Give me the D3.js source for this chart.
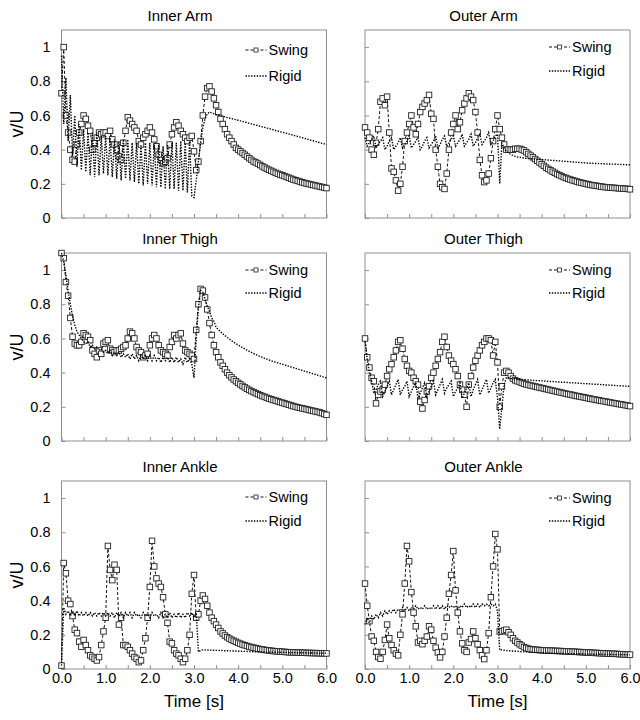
<!DOCTYPE html>
<html>
<head>
<meta charset="utf-8">
<script src="https://cdn.jsdelivr.net/npm/d3@7"></script>
<style>
  body { margin: 0; background: #fff; }
  svg text { font-family: "Liberation Sans", Arial, sans-serif; fill: #000; }
</style>
</head>
<body>
<div id="chart"></div>
<script>
// sample grid: every 0.05 s from 0 to 6 s
const time = d3.range(121).map(i => +(i * 0.05).toFixed(2));

// values, one row per 0.5 s
const innerArmSwing = [
  0.73, 1.00, 0.60, 0.50, 0.40, 0.34, 0.33, 0.43, 0.50, 0.55,
  0.60, 0.58, 0.54, 0.51, 0.40, 0.44, 0.47, 0.50, 0.49, 0.50,
  0.50, 0.48, 0.51, 0.46, 0.43, 0.40, 0.36, 0.34, 0.44, 0.51,
  0.59, 0.57, 0.55, 0.53, 0.51, 0.45, 0.43, 0.47, 0.49, 0.51,
  0.53, 0.50, 0.46, 0.42, 0.37, 0.34, 0.32, 0.33, 0.35, 0.43,
  0.49, 0.53, 0.56, 0.54, 0.51, 0.49, 0.47, 0.45, 0.47, 0.48,
  0.39, 0.28, 0.33, 0.45, 0.60, 0.71, 0.76, 0.77, 0.74, 0.70,
  0.66, 0.62, 0.58, 0.55, 0.52, 0.49, 0.47, 0.45, 0.43, 0.41,
  0.40, 0.39, 0.38, 0.37, 0.36, 0.35, 0.34, 0.33, 0.325, 0.318,
  0.31, 0.302, 0.295, 0.288, 0.282, 0.276, 0.27, 0.264, 0.259, 0.254,
  0.25, 0.245, 0.24, 0.235, 0.23, 0.225, 0.221, 0.217, 0.213, 0.209,
  0.205, 0.202, 0.199, 0.196, 0.193, 0.19, 0.187, 0.184, 0.181, 0.178,
  0.175
];
const innerArmRigid = [
  0.95, 0.55, 0.82, 0.45, 0.72, 0.36, 0.60, 0.30, 0.55, 0.28,
  0.52, 0.27, 0.50, 0.25, 0.50, 0.24, 0.50, 0.25, 0.48, 0.26,
  0.48, 0.25, 0.47, 0.24, 0.46, 0.23, 0.45, 0.22, 0.46, 0.23,
  0.46, 0.22, 0.44, 0.21, 0.44, 0.20, 0.43, 0.19, 0.44, 0.20,
  0.44, 0.19, 0.43, 0.18, 0.43, 0.18, 0.42, 0.17, 0.43, 0.17,
  0.44, 0.17, 0.44, 0.16, 0.45, 0.16, 0.44, 0.15, 0.45, 0.13,
  0.12, 0.22, 0.33, 0.44, 0.53, 0.58, 0.61, 0.62, 0.615, 0.61,
  0.605, 0.602, 0.598, 0.595, 0.592, 0.588, 0.585, 0.582, 0.578, 0.575,
  0.572, 0.568, 0.565, 0.561, 0.558, 0.554, 0.551, 0.547, 0.544, 0.540,
  0.537, 0.533, 0.530, 0.526, 0.523, 0.519, 0.516, 0.512, 0.509, 0.505,
  0.502, 0.498, 0.495, 0.491, 0.488, 0.484, 0.480, 0.477, 0.473, 0.470,
  0.466, 0.462, 0.459, 0.455, 0.452, 0.448, 0.444, 0.441, 0.437, 0.434,
  0.43
];

const outerArmSwing = [
  0.53, 0.50, 0.47, 0.40, 0.37, 0.44, 0.52, 0.68, 0.70, 0.66,
  0.71, 0.50, 0.29, 0.27, 0.22, 0.16, 0.20, 0.30, 0.45, 0.50,
  0.55, 0.60, 0.53, 0.49, 0.55, 0.62, 0.65, 0.67, 0.69, 0.72,
  0.61, 0.58, 0.40, 0.30, 0.20, 0.18, 0.17, 0.26, 0.40, 0.50,
  0.55, 0.60, 0.52, 0.56, 0.63, 0.67, 0.70, 0.73, 0.71, 0.69,
  0.62, 0.50, 0.34, 0.25, 0.21, 0.22, 0.26, 0.35, 0.45, 0.52,
  0.60, 0.52, 0.47, 0.43, 0.40, 0.40, 0.40, 0.40, 0.405, 0.405,
  0.405, 0.40, 0.395, 0.385, 0.375, 0.365, 0.355, 0.345, 0.335, 0.325,
  0.315, 0.305, 0.295, 0.287, 0.279, 0.271, 0.264, 0.257, 0.251, 0.245,
  0.239, 0.234, 0.229, 0.225, 0.221, 0.217, 0.213, 0.209, 0.206, 0.203,
  0.200, 0.197, 0.194, 0.192, 0.190, 0.188, 0.186, 0.184, 0.182, 0.180,
  0.179, 0.178, 0.177, 0.176, 0.175, 0.174, 0.173, 0.172, 0.171, 0.170,
  0.168
];
const outerArmRigid = [
  0.47, 0.42, 0.44, 0.46, 0.48, 0.41, 0.43, 0.45, 0.47, 0.40,
  0.42, 0.45, 0.47, 0.40, 0.42, 0.44, 0.47, 0.41, 0.43, 0.45,
  0.48, 0.41, 0.43, 0.45, 0.47, 0.40, 0.42, 0.45, 0.47, 0.41,
  0.43, 0.45, 0.48, 0.41, 0.43, 0.46, 0.48, 0.42, 0.44, 0.46,
  0.48, 0.42, 0.44, 0.46, 0.49, 0.42, 0.44, 0.46, 0.49, 0.42,
  0.44, 0.47, 0.49, 0.43, 0.45, 0.47, 0.50, 0.43, 0.45, 0.48,
  0.49, 0.20, 0.44, 0.41, 0.39, 0.38, 0.372, 0.366, 0.361, 0.357,
  0.355, 0.353, 0.351, 0.349, 0.348, 0.347, 0.346, 0.345, 0.344, 0.343,
  0.342, 0.341, 0.340, 0.339, 0.338, 0.337, 0.336, 0.335, 0.334, 0.333,
  0.332, 0.331, 0.330, 0.329, 0.328, 0.327, 0.326, 0.325, 0.324, 0.323,
  0.322, 0.321, 0.320, 0.320, 0.319, 0.319, 0.318, 0.318, 0.317, 0.317,
  0.316, 0.316, 0.315, 0.315, 0.314, 0.314, 0.313, 0.313, 0.312, 0.312,
  0.311
];

const innerThighSwing = [
  1.10, 1.07, 0.93, 0.85, 0.72, 0.61, 0.57, 0.56, 0.56, 0.58,
  0.63, 0.62, 0.61, 0.59, 0.53, 0.51, 0.49, 0.53, 0.51, 0.57,
  0.58, 0.59, 0.54, 0.53, 0.52, 0.53, 0.53, 0.54, 0.55, 0.56,
  0.60, 0.64, 0.63, 0.60, 0.55, 0.53, 0.52, 0.49, 0.50, 0.51,
  0.56, 0.60, 0.62, 0.60, 0.56, 0.53, 0.52, 0.51, 0.50, 0.55,
  0.58, 0.62, 0.60, 0.62, 0.63, 0.57, 0.53, 0.52, 0.51, 0.50,
  0.48, 0.65, 0.80, 0.89, 0.88, 0.84, 0.77, 0.69, 0.62, 0.56,
  0.52, 0.49, 0.46, 0.44, 0.42, 0.40, 0.385, 0.372, 0.36, 0.35,
  0.34, 0.331, 0.322, 0.314, 0.306, 0.299, 0.292, 0.286, 0.28, 0.274,
  0.268, 0.263, 0.258, 0.253, 0.248, 0.244, 0.24, 0.236, 0.232, 0.228,
  0.224, 0.22, 0.216, 0.212, 0.208, 0.204, 0.2, 0.197, 0.194, 0.191,
  0.188, 0.185, 0.182, 0.179, 0.176, 0.173, 0.17, 0.167, 0.163, 0.158,
  0.153
];
const innerThighRigid = [
  1.10, 1.05, 0.97, 0.88, 0.80, 0.73, 0.68, 0.64, 0.62, 0.60,
  0.58, 0.57, 0.58, 0.55, 0.56, 0.54, 0.55, 0.53, 0.54, 0.52,
  0.53, 0.51, 0.53, 0.50, 0.52, 0.50, 0.52, 0.49, 0.51, 0.49,
  0.51, 0.48, 0.51, 0.48, 0.50, 0.47, 0.50, 0.48, 0.50, 0.47,
  0.50, 0.47, 0.50, 0.47, 0.49, 0.46, 0.49, 0.47, 0.49, 0.46,
  0.49, 0.46, 0.49, 0.46, 0.48, 0.45, 0.49, 0.46, 0.48, 0.45,
  0.37, 0.60, 0.78, 0.88, 0.87, 0.83, 0.79, 0.76, 0.72, 0.70,
  0.665, 0.652, 0.640, 0.628, 0.617, 0.606, 0.596, 0.587, 0.578, 0.570,
  0.562, 0.554, 0.546, 0.539, 0.532, 0.525, 0.518, 0.512, 0.506, 0.500,
  0.494, 0.489, 0.484, 0.479, 0.474, 0.469, 0.465, 0.461, 0.457, 0.453,
  0.449, 0.445, 0.441, 0.437, 0.433, 0.429, 0.425, 0.421, 0.417, 0.413,
  0.409, 0.405, 0.401, 0.397, 0.393, 0.389, 0.385, 0.381, 0.377, 0.373,
  0.369
];

const outerThighSwing = [
  0.60, 0.49, 0.43, 0.37, 0.35, 0.22, 0.27, 0.29, 0.30, 0.33,
  0.38, 0.42, 0.45, 0.49, 0.53, 0.58, 0.59, 0.54, 0.48, 0.44,
  0.41, 0.40, 0.37, 0.35, 0.33, 0.23, 0.19, 0.24, 0.29, 0.32,
  0.37, 0.40, 0.44, 0.48, 0.52, 0.58, 0.61, 0.55, 0.50, 0.47,
  0.45, 0.42, 0.38, 0.33, 0.30, 0.27, 0.20, 0.33, 0.38, 0.43,
  0.47, 0.50, 0.53, 0.56, 0.58, 0.60, 0.60, 0.59, 0.50, 0.58,
  0.46, 0.20, 0.32, 0.40, 0.41, 0.40, 0.38, 0.365, 0.355, 0.35,
  0.345, 0.34, 0.335, 0.331, 0.328, 0.325, 0.322, 0.319, 0.316, 0.313,
  0.31, 0.307, 0.304, 0.301, 0.298, 0.295, 0.292, 0.289, 0.286, 0.283,
  0.28, 0.277, 0.274, 0.272, 0.269, 0.266, 0.263, 0.261, 0.258, 0.256,
  0.253, 0.25, 0.248, 0.245, 0.243, 0.24, 0.238, 0.235, 0.233, 0.231,
  0.228, 0.226, 0.223, 0.221, 0.219, 0.216, 0.214, 0.212, 0.209, 0.207,
  0.204
];
const outerThighRigid = [
  0.58, 0.48, 0.40, 0.35, 0.28, 0.30, 0.33, 0.35, 0.26, 0.29,
  0.32, 0.35, 0.27, 0.30, 0.33, 0.36, 0.27, 0.30, 0.32, 0.35,
  0.26, 0.29, 0.32, 0.34, 0.25, 0.28, 0.31, 0.34, 0.26, 0.29,
  0.32, 0.35, 0.27, 0.30, 0.33, 0.36, 0.28, 0.31, 0.33, 0.35,
  0.26, 0.29, 0.31, 0.34, 0.25, 0.28, 0.31, 0.34, 0.26, 0.30,
  0.33, 0.36, 0.27, 0.30, 0.33, 0.36, 0.28, 0.31, 0.34, 0.36,
  0.25, 0.07, 0.20, 0.33, 0.37, 0.37, 0.365, 0.365, 0.362, 0.36,
  0.360, 0.359, 0.358, 0.358, 0.357, 0.356, 0.355, 0.354, 0.353, 0.353,
  0.352, 0.351, 0.350, 0.349, 0.348, 0.348, 0.347, 0.346, 0.345, 0.344,
  0.344, 0.343, 0.342, 0.341, 0.340, 0.340, 0.339, 0.338, 0.337, 0.336,
  0.336, 0.335, 0.334, 0.333, 0.332, 0.332, 0.331, 0.330, 0.329, 0.328,
  0.328, 0.327, 0.326, 0.325, 0.324, 0.324, 0.323, 0.322, 0.321, 0.320,
  0.320
];

const innerAnkleSwing = [
  0.02, 0.62, 0.56, 0.40, 0.38, 0.31, 0.23, 0.21, 0.16, 0.13,
  0.17, 0.14, 0.11, 0.08, 0.07, 0.06, 0.05, 0.07, 0.14, 0.22,
  0.30, 0.72, 0.58, 0.52, 0.61, 0.58, 0.26, 0.30, 0.14, 0.14,
  0.13, 0.11, 0.09, 0.07, 0.06, 0.04, 0.05, 0.11, 0.18, 0.30,
  0.48, 0.75, 0.60, 0.53, 0.50, 0.48, 0.42, 0.32, 0.27, 0.16,
  0.15, 0.11, 0.09, 0.08, 0.06, 0.04, 0.06, 0.11, 0.20, 0.44,
  0.55, 0.30, 0.32, 0.40, 0.43, 0.41, 0.37, 0.33, 0.30, 0.28,
  0.26, 0.24, 0.22, 0.208, 0.196, 0.186, 0.178, 0.171, 0.165, 0.159,
  0.153, 0.148, 0.143, 0.139, 0.135, 0.131, 0.128, 0.125, 0.122, 0.119,
  0.116, 0.114, 0.112, 0.110, 0.108, 0.107, 0.105, 0.104, 0.103, 0.102,
  0.101, 0.100, 0.099, 0.098, 0.098, 0.097, 0.097, 0.096, 0.096, 0.095,
  0.095, 0.094, 0.094, 0.094, 0.093, 0.093, 0.093, 0.092, 0.092, 0.092,
  0.091
];
const innerAnkleRigid = [
  0.02, 0.36, 0.32, 0.34, 0.31, 0.34, 0.31, 0.34, 0.31, 0.33,
  0.31, 0.33, 0.31, 0.33, 0.31, 0.33, 0.31, 0.33, 0.31, 0.33,
  0.31, 0.33, 0.31, 0.33, 0.30, 0.33, 0.31, 0.33, 0.30, 0.33,
  0.31, 0.33, 0.30, 0.33, 0.31, 0.32, 0.30, 0.33, 0.31, 0.32,
  0.30, 0.33, 0.31, 0.32, 0.30, 0.33, 0.30, 0.32, 0.30, 0.33,
  0.30, 0.32, 0.30, 0.33, 0.30, 0.32, 0.30, 0.33, 0.31, 0.33,
  0.30, 0.33, 0.10, 0.108, 0.112, 0.112, 0.111, 0.111, 0.110, 0.110,
  0.109, 0.109, 0.108, 0.108, 0.107, 0.107, 0.106, 0.106, 0.105, 0.105,
  0.104, 0.104, 0.103, 0.103, 0.103, 0.102, 0.102, 0.101, 0.101, 0.101,
  0.100, 0.100, 0.100, 0.099, 0.099, 0.099, 0.098, 0.098, 0.098, 0.097,
  0.097, 0.097, 0.097, 0.096, 0.096, 0.096, 0.096, 0.095, 0.095, 0.095,
  0.095, 0.094, 0.094, 0.094, 0.094, 0.094, 0.093, 0.093, 0.093, 0.093,
  0.093
];

const outerAnkleSwing = [
  0.50, 0.37, 0.28, 0.19, 0.165, 0.10, 0.07, 0.06, 0.10, 0.17,
  0.26, 0.18, 0.14, 0.11, 0.09, 0.08, 0.20, 0.32, 0.50, 0.72,
  0.63, 0.45, 0.33, 0.25, 0.155, 0.165, 0.145, 0.165, 0.19, 0.25,
  0.23, 0.165, 0.125, 0.097, 0.068, 0.10, 0.19, 0.30, 0.44, 0.55,
  0.69, 0.46, 0.33, 0.22, 0.15, 0.11, 0.10, 0.155, 0.175, 0.22,
  0.18, 0.145, 0.11, 0.08, 0.058, 0.11, 0.21, 0.42, 0.60, 0.79,
  0.70, 0.22, 0.22, 0.225, 0.23, 0.215, 0.20, 0.18, 0.165, 0.155,
  0.145, 0.137, 0.128, 0.123, 0.119, 0.116, 0.114, 0.113, 0.112, 0.111,
  0.110, 0.109, 0.108, 0.108, 0.107, 0.107, 0.106, 0.106, 0.105, 0.105,
  0.104, 0.103, 0.103, 0.102, 0.101, 0.101, 0.100, 0.099, 0.099, 0.098,
  0.097, 0.096, 0.096, 0.095, 0.094, 0.094, 0.093, 0.092, 0.092, 0.091,
  0.090, 0.090, 0.089, 0.089, 0.088, 0.087, 0.087, 0.086, 0.085, 0.085,
  0.084
];
const outerAnkleRigid = [
  0.26, 0.30, 0.27, 0.31, 0.29, 0.32, 0.30, 0.33, 0.31, 0.34,
  0.32, 0.34, 0.33, 0.35, 0.33, 0.35, 0.34, 0.36, 0.34, 0.36,
  0.34, 0.36, 0.35, 0.37, 0.35, 0.36, 0.35, 0.37, 0.35, 0.36,
  0.35, 0.37, 0.35, 0.37, 0.35, 0.37, 0.35, 0.37, 0.36, 0.37,
  0.36, 0.37, 0.35, 0.37, 0.36, 0.38, 0.36, 0.37, 0.36, 0.38,
  0.36, 0.38, 0.36, 0.38, 0.37, 0.38, 0.37, 0.38, 0.37, 0.38,
  0.34, 0.11, 0.112, 0.11, 0.108, 0.107, 0.106, 0.105, 0.104, 0.103,
  0.102, 0.101, 0.100, 0.100, 0.099, 0.098, 0.098, 0.097, 0.096, 0.096,
  0.095, 0.095, 0.094, 0.094, 0.093, 0.093, 0.092, 0.092, 0.091, 0.091,
  0.091, 0.090, 0.090, 0.090, 0.089, 0.089, 0.089, 0.088, 0.088, 0.088,
  0.087, 0.087, 0.087, 0.087, 0.086, 0.086, 0.086, 0.086, 0.085, 0.085,
  0.085, 0.085, 0.085, 0.084, 0.084, 0.084, 0.084, 0.084, 0.083, 0.083,
  0.083
];

const titles = ['Inner Arm', 'Outer Arm', 'Inner Thigh', 'Outer Thigh', 'Inner Ankle', 'Outer Ankle'];
const seriesNames = ['Swing', 'Rigid'];
const xTicks = [0, 1, 2, 3, 4, 5, 6];
const xTickLabels = ['0.0', '1.0', '2.0', '3.0', '4.0', '5.0', '6.0'];
const xMinorTicks = d3.range(13).map(i => i * 0.5);
const yTicks = [0, 0.2, 0.4, 0.6, 0.8, 1];
const yTickLabels = ['0', '0.2', '0.4', '0.6', '0.8', '1'];

const panels = [
  { title: titles[0], swing: innerArmSwing, rigid: innerArmRigid },
  { title: titles[1], swing: outerArmSwing, rigid: outerArmRigid },
  { title: titles[2], swing: innerThighSwing, rigid: innerThighRigid },
  { title: titles[3], swing: outerThighSwing, rigid: outerThighRigid },
  { title: titles[4], swing: innerAnkleSwing, rigid: innerAnkleRigid },
  { title: titles[5], swing: outerAnkleSwing, rigid: outerAnkleRigid }
];

// layout
const cols = [[61.5, 326.5], [365, 630]];
const rows = [[30, 218], [253, 441], [481, 669]];
const legendOffsets = [[20, 46], [17, 41], [17, 40], [17, 40], [16, 40], [17, 40]];
const frameColor = '#8f8f8f';

const svg = d3.select('#chart')
    .append('svg')
    .attr('width', 640)
    .attr('height', 720);

panels.forEach((p, i) => {
    const row = Math.floor(i / 2), col = i % 2;
    const [x0, x1] = cols[col];
    const [y0, y1] = rows[row];

    const x = d3.scaleLinear().domain([0, 6]).range([x0, x1]);
    const y = d3.scaleLinear().domain([0, 1.1]).range([y1, y0]);

    const g = svg.append('g');

    // plot frame
    g.append('rect')
        .attr('x', x0).attr('y', y0)
        .attr('width', x1 - x0).attr('height', y1 - y0)
        .attr('fill', 'none')
        .attr('stroke', frameColor);

    // x axis, inward ticks every 0.5 s
    const xAxis = d3.axisBottom(x)
        .tickValues(xMinorTicks)
        .tickSize(-4)
        .tickPadding(4)
        .tickFormat(d => (row === 2 && xTicks.includes(d)) ? xTickLabels[xTicks.indexOf(d)] : '');
    const gx = g.append('g')
        .attr('transform', `translate(0,${y1})`)
        .call(xAxis);
    gx.select('.domain').remove();
    gx.selectAll('line').attr('stroke', frameColor);
    gx.selectAll('text').style('font-size', '14.5px').attr('fill', '#000');

    // y axis
    const yAxis = d3.axisLeft(y)
        .tickValues(yTicks)
        .tickSize(-4)
        .tickPadding(11)
        .tickFormat((d, k) => col === 0 ? yTickLabels[k] : '');
    const gy = g.append('g')
        .attr('transform', `translate(${x0},0)`)
        .call(yAxis);
    gy.select('.domain').remove();
    gy.selectAll('line').attr('stroke', frameColor);
    gy.selectAll('text').style('font-size', '14.5px').attr('fill', '#000');

    // title
    g.append('text')
        .attr('x', (x0 + x1) / 2 - 14)
        .attr('y', y0 - 9)
        .attr('text-anchor', 'middle')
        .style('font-size', '15px')
        .text(p.title);

    // y label
    if (col === 0) {
        g.append('text')
            .attr('transform', `translate(17,${(y0 + y1) / 2}) rotate(-90)`)
            .attr('text-anchor', 'middle')
            .attr('dy', '0.35em')
            .style('font-size', '18px')
            .text('v/U');
    }

    // x label
    if (row === 2) {
        g.append('text')
            .attr('x', (x0 + x1) / 2)
            .attr('y', 707)
            .attr('text-anchor', 'middle')
            .style('font-size', '17px')
            .text('Time [s]');
    }

    const line = d3.line()
        .x((d, k) => x(time[k]))
        .y(d => y(d));

    // Swing: dashed line with open squares
    g.append('path')
        .datum(p.swing)
        .attr('d', line)
        .attr('fill', 'none')
        .attr('stroke', '#111')
        .attr('stroke-width', 1)
        .attr('stroke-dasharray', '3,2');

    g.selectAll('.marker')
        .data(p.swing)
        .enter()
        .append('rect')
        .attr('class', 'marker')
        .attr('x', (d, k) => x(time[k]) - 2.75)
        .attr('y', d => y(d) - 2.75)
        .attr('width', 5.5)
        .attr('height', 5.5)
        .attr('fill', '#fff')
        .attr('stroke', '#222')
        .attr('stroke-width', 0.9);

    // Rigid: dotted line
    g.append('path')
        .datum(p.rigid)
        .attr('d', line)
        .attr('fill', 'none')
        .attr('stroke', '#000')
        .attr('stroke-width', 1.4)
        .attr('stroke-dasharray', '1.4,1.4');

    // legend
    const [dySwing, dyRigid] = legendOffsets[i];
    const lx0 = x1 - 81, lx1 = x1 - 60, tx = x1 - 58;
    g.append('line')
        .attr('x1', lx0).attr('x2', lx1)
        .attr('y1', y0 + dySwing).attr('y2', y0 + dySwing)
        .attr('stroke', '#111')
        .attr('stroke-dasharray', '3,2');
    g.append('rect')
        .attr('x', (lx0 + lx1) / 2 - 2).attr('y', y0 + dySwing - 2)
        .attr('width', 4).attr('height', 4)
        .attr('fill', '#fff')
        .attr('stroke', '#222')
        .attr('stroke-width', 0.8);
    g.append('line')
        .attr('x1', lx0).attr('x2', lx1)
        .attr('y1', y0 + dyRigid).attr('y2', y0 + dyRigid)
        .attr('stroke', '#000')
        .attr('stroke-width', 1.4)
        .attr('stroke-dasharray', '1.4,1.4');
    g.selectAll('.legend-text')
        .data(seriesNames)
        .enter()
        .append('text')
        .attr('class', 'legend-text')
        .attr('x', tx)
        .attr('y', (d, k) => y0 + (k === 0 ? dySwing : dyRigid))
        .attr('dy', '0.35em')
        .style('font-size', '14.5px')
        .text(d => d);
});
</script>
</body>
</html>
